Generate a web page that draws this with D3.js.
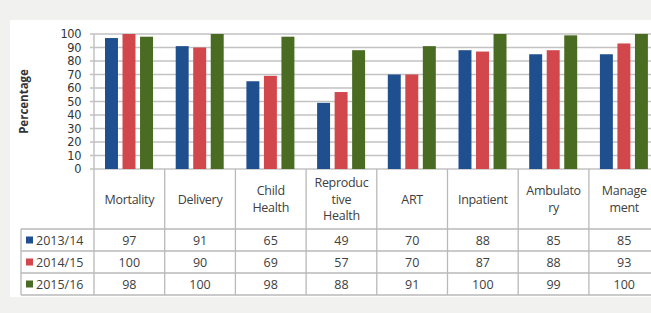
<!DOCTYPE html>
<html>
<head>
<meta charset="utf-8">
<script src="https://cdn.jsdelivr.net/npm/d3@7"></script>
<style>
  body { margin:0; background:#f1f1ef; }
  svg { display:block; font-family:"Open Sans", sans-serif; }
</style>
</head>
<body>
<svg id="chart" width="651" height="313"></svg>
<script>
// categories shown along the bottom / in the table header
var categories = ["Mortality","Delivery","Child Health","Reproductive Health",
                  "ART","Inpatient","Ambulatory","Management"];
// how the header text wraps in the table
var headerLines = [["Mortality"],["Delivery"],["Child","Health"],["Reproduc","tive","Health"],
                   ["ART"],["Inpatient"],["Ambulato","ry"],["Manage","ment"]];
var seriesNames = ["2013/14","2014/15","2015/16"];
var values2013 = [97,91,65,49,70,88,85,85];
var values2014 = [100,90,69,57,70,87,88,93];
var values2015 = [98,100,98,88,91,100,99,100];
var yTicks = [0,10,20,30,40,50,60,70,80,90,100];
var colors = ["#1f4f8f","#d2474b","#4a6b22"];

var seriesValues = [values2013,values2014,values2015];

var svg = d3.select("#chart");

// white panel
svg.append("rect")
    .attr("x",10).attr("y",20)
    .attr("width",641).attr("height",277)
    .attr("fill","#ffffff");

var plot = {left:94, top:34, bottom:169, catWidth:70.7};
var tableRows = {headerBottom:229, rowHeight:22, legendLeft:21};

var xScale = d3.scaleBand()
    .domain(categories)
    .range([plot.left, plot.left + plot.catWidth*categories.length])
    .paddingInner(0).paddingOuter(0);

var subScale = d3.scaleBand()
    .domain(seriesNames)
    .range([11,59])
    .paddingInner(0.26);

var yScale = d3.scaleLinear()
    .domain([0,100])
    .range([plot.bottom, plot.top]);

// gridlines + little ticks on the left
var grid = svg.append("g");
grid.selectAll("line.grid")
    .data(yTicks)
    .enter()
    .append("line")
    .attr("x1",plot.left-4)
    .attr("x2",651)
    .attr("y1",function(d){ return yScale(d); })
    .attr("y2",function(d){ return yScale(d); })
    .attr("stroke","#c2c2c2")
    .attr("stroke-width",1.5);

grid.append("line")
    .attr("x1",plot.left).attr("x2",plot.left)
    .attr("y1",plot.top).attr("y2",plot.bottom)
    .attr("stroke","#c2c2c2")
    .attr("stroke-width",1.5);

// y tick labels
svg.append("g")
    .selectAll("text")
    .data(yTicks)
    .enter()
    .append("text")
    .text(function(d){ return d; })
    .attr("x",81)
    .attr("y",function(d){ return yScale(d)+4; })
    .attr("text-anchor","end")
    .attr("font-family","DejaVu Sans")
    .attr("font-size","11.4px")
    .attr("letter-spacing","-0.4px")
    .attr("fill","#333");

// axis title
svg.append("text")
    .text("Percentage")
    .attr("transform","translate(28,"+(plot.top+plot.bottom)/2+") rotate(-90)")
    .attr("text-anchor","middle")
    .attr("font-size","11.5px")
    .attr("font-weight","bold")
    .attr("fill","#333");

// bars
var groups = svg.append("g")
    .selectAll("g")
    .data(seriesNames)
    .enter()
    .append("g")
    .attr("fill",function(d,i){ return colors[i]; });

groups.selectAll("rect")
    .data(function(name,i){
        return seriesValues[i].map(function(v,j){
            return {cat:categories[j], name:name, value:v};
        });
    })
    .enter()
    .append("rect")
    .attr("x",function(d){ return xScale(d.cat)+subScale(d.name); })
    .attr("width",subScale.bandwidth())
    .attr("y",function(d){ return yScale(d.value); })
    .attr("height",function(d){ return plot.bottom - yScale(d.value); });

// data table
var table = svg.append("g");
var tableBottom = tableRows.headerBottom + tableRows.rowHeight*seriesNames.length;
var lineColor = "#b9b9b9";

// vertical lines
var vx = categories.map(function(c){ return xScale(c); });
vx.push(xScale(categories[categories.length-1]) + xScale.bandwidth());
table.selectAll("line.v")
    .data(vx)
    .enter()
    .append("line")
    .attr("x1",function(d){ return d; })
    .attr("x2",function(d){ return d; })
    .attr("y1",plot.bottom)
    .attr("y2",tableBottom)
    .attr("stroke",lineColor)
    .attr("stroke-width",1.3);

table.append("line")
    .attr("x1",tableRows.legendLeft).attr("x2",tableRows.legendLeft)
    .attr("y1",tableRows.headerBottom).attr("y2",tableBottom)
    .attr("stroke",lineColor).attr("stroke-width",1.3);

// horizontal lines
var hy = d3.range(seriesNames.length+1).map(function(i){
    return tableRows.headerBottom + i*tableRows.rowHeight;
});
table.selectAll("line.h")
    .data(hy)
    .enter()
    .append("line")
    .attr("x1",tableRows.legendLeft)
    .attr("x2",651)
    .attr("y1",function(d){ return d; })
    .attr("y2",function(d){ return d; })
    .attr("stroke",lineColor)
    .attr("stroke-width",1.3);

// header text
var headerMid = (plot.bottom + tableRows.headerBottom)/2;
var lineH = 16.5;
var headers = table.selectAll("text.head")
    .data(headerLines)
    .enter()
    .append("text")
    .attr("text-anchor","middle")
    .attr("font-size","12.5px")
    .attr("letter-spacing","-0.3px")
    .attr("fill","#404040")
    .attr("x",function(d,i){ return xScale(categories[i]) + xScale.bandwidth()/2; })
    .attr("y",function(d){ return headerMid - (d.length-1)*lineH/2 + 4.5; });

headers.selectAll("tspan")
    .data(function(d){ return d; })
    .enter()
    .append("tspan")
    .attr("x",function(){ return d3.select(this.parentNode).attr("x"); })
    .attr("dy",function(d,i){ return i==0 ? 0 : lineH; })
    .text(function(d){ return d; });

// rows
seriesNames.forEach(function(name,i){
    var rowMid = tableRows.headerBottom + i*tableRows.rowHeight + tableRows.rowHeight/2;
    table.append("rect")
        .attr("x",26).attr("y",rowMid-3.5)
        .attr("width",7).attr("height",7)
        .attr("fill",colors[i]);
    table.append("text")
        .text(name)
        .attr("x",36)
        .attr("y",rowMid+4.5)
        .attr("font-size","12.5px")
        .attr("fill","#404040");
    table.selectAll("text.r"+i)
        .data(seriesValues[i])
        .enter()
        .append("text")
        .text(function(d){ return d; })
        .attr("x",function(d,j){ return xScale(categories[j]) + xScale.bandwidth()/2; })
        .attr("y",rowMid+4.5)
        .attr("text-anchor","middle")
        .attr("font-size","12.5px")
        .attr("fill","#404040");
});
</script>
</body>
</html>
